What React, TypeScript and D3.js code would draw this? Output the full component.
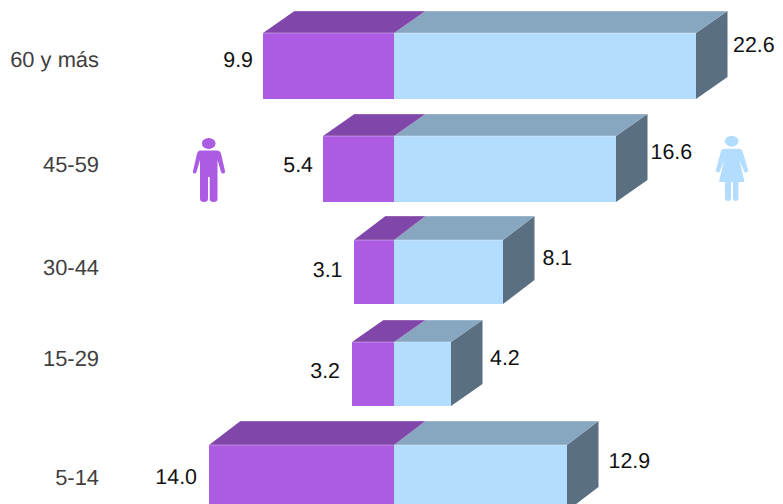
import React from "react";
import * as d3 from "d3";

const categories = ["60 y más", "45-59", "30-44", "15-29", "5-14"];
const maleValues = [9.9, 5.4, 3.1, 3.2, 14.0];
const femaleValues = [22.6, 16.6, 8.1, 4.2, 12.9];

const W = 783, H = 504;
const CX = 394, DX = 31.5;
const font = "'Liberation Sans', Arial, sans-serif";
const fs = 21.4;

const rowTops = [33, 136, 240, 342, 445];
const rowHeights = [66, 66, 64, 64, 66];
const rowDepths = [22, 22, 24, 22, 24];
const male = d3.scaleLinear().domain([3.1, 14]).range([CX - 40.2, CX - 185.2]).interpolate(d3.interpolateRound);
const female = d3.scaleLinear().domain([4.2, 22.6]).range([CX + 57, CX + 302]).interpolate(d3.interpolateRound);

const catY = [59, 164.5, 267, 358, 477];
const maleY = [60, 165, 270, 371, 477];
const femY = [45, 152, 258, 358, 461];
const maleDx = [10, 10, 11.5, 12, 12];
const femDx = [37, 34.5, 39.5, 39, 41.5];

const poly = (p: number[][]) => p.map((q) => q.join(",")).join(" ");

function Box({ x0, x1, top, h, dy, front, topc, side }: any) {
  const b = top + h;
  return (
    <g>
      {side && <polygon points={poly([[x1, top], [x1 + DX, top - dy], [x1 + DX, b - dy], [x1, b]])} fill={side} />}
      <polygon points={poly([[x0, top], [x0 + DX, top - dy], [x1 + DX, top - dy], [x1, top]])} fill={topc} />
      <line x1={x0 + DX} x2={x1 + DX} y1={top - dy} y2={top - dy} stroke="#fff" strokeOpacity={0.35} />
      <rect x={x0} y={top} width={x1 - x0} height={h} fill={front} />
      <line x1={x0} x2={x1} y1={top} y2={top} stroke="#fff" strokeOpacity={0.35} />
    </g>
  );
}

const Man = () => (
  <g fill="#AB5CE3">
    <ellipse cx={208.7} cy={143.4} rx={6.8} ry={5.5} />
    <path d="M200 150.5H217Q220 150.5 221 153.5L225 171Q225.3 173.5 223 173.5Q221.5 173.5 221 172L217.5 160V199Q217.5 202 213.5 202Q209.7 202 209.7 199V177H208V199Q208 202 204 202Q200 202 200 199V160L196.5 172Q196 173.5 194.500 173.500Q192.500 173.500 193 171L197 153.500Q198 150.500 200 150.500Z" />
  </g>
);

const Woman = () => (
  <g fill="#B2DDFF">
    <ellipse cx={731.7} cy={141.2} rx={6.8} ry={5.5} />
    <path d="M724 148.700H739Q741.500 148.700 742.500 151L748 169.500Q748.500 172.500 746 172.500Q744.500 172.500 744 171L739.500 160L744.500 182H738.500V198Q738.500 201 735.500 201Q733 201 733 198V182H731V198Q731 201 728 201Q725 201 725 198V182H719L724 160L720 171Q719.500 172.500 718 172.500Q715.500 172.500 716 169.500L721 151Q722 148.700 724 148.700Z" />
  </g>
);

export default function App() {
  return (
    <svg width={W} height={H} style={{ position: "fixed", left: 0, top: 0, display: "block" }} fontFamily={font} fontSize={fs} textRendering="geometricPrecision">
      <rect width={W} height={H} fill="#fff" />
      {categories.map((c, i) => {
        const top = rowTops[i];
        const h = rowHeights[i];
        const dy = rowDepths[i];
        const xm = male(maleValues[i]);
        const xf = female(femaleValues[i]);
        return (
          <g key={c}>
            <Box x0={CX} x1={xf} top={top} h={h} dy={dy} front="#B2DDFF" topc="#87A6BF" side="#5A6F82" />
            <Box x0={xm} x1={CX} top={top} h={h} dy={dy} front="#AB5CE3" topc="#8146A9" />
            <text x={99} y={catY[i]} textAnchor="end" dominantBaseline="central" fill="#404040" fontSize={21.9}>{c}</text>
            <text x={xm - maleDx[i]} y={maleY[i]} textAnchor="end" dominantBaseline="central" fill="#111">{maleValues[i].toFixed(1)}</text>
            <text x={xf + femDx[i]} y={femY[i]} dominantBaseline="central" fill="#111">{femaleValues[i].toFixed(1)}</text>
          </g>
        );
      })}
      <Man />
      <Woman />
    </svg>
  );
}
